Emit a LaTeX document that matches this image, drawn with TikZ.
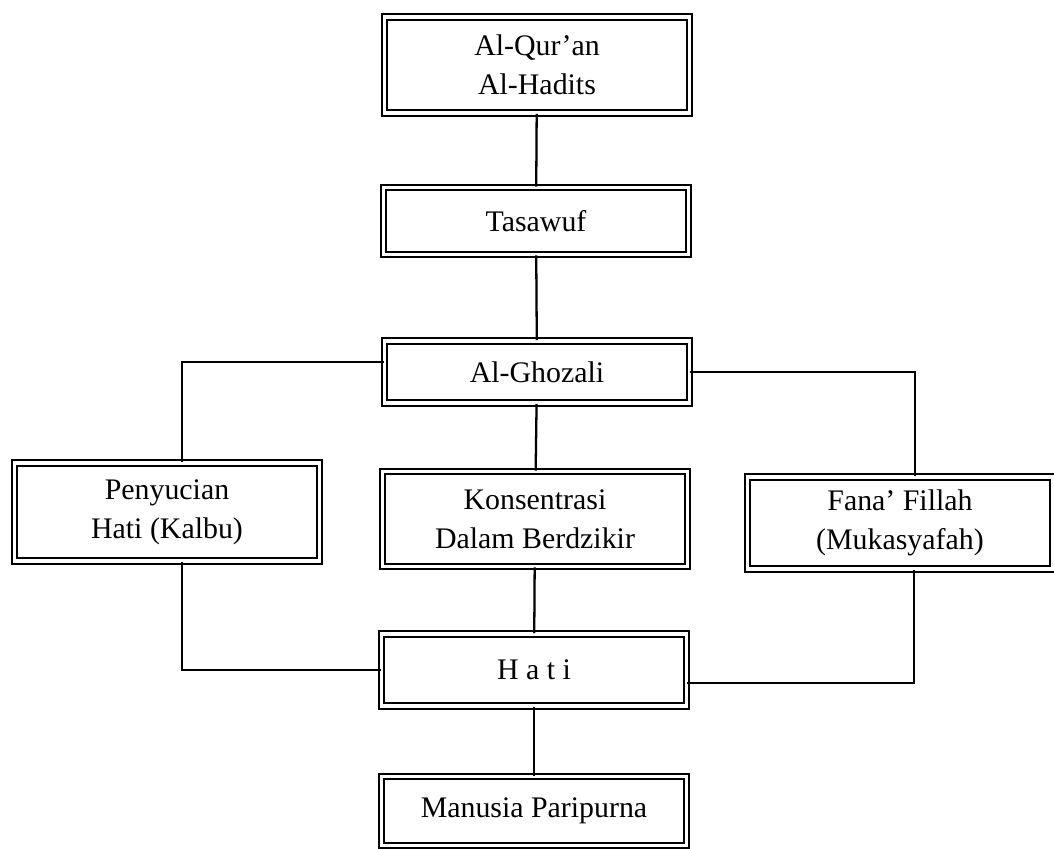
\documentclass[tikz,border=0pt]{standalone}
\usepackage{fontspec}
\setmainfont{Liberation Serif}
\usepackage{tikz}
\usetikzlibrary{positioning, calc}

\tikzset{
  kotak/.style={draw, double, double distance=2.2pt, line width=1.1pt,
    minimum width=6.1cm, align=center, inner sep=2pt},
  garis/.style={line width=1.3pt}
}

\begin{document}
\begin{tikzpicture}[x=0.02cm, y=-0.02cm, font=\fontsize{17}{22}\selectfont]
  \useasboundingbox (0,0) rectangle (1054,848);
  % kolom tengah
  \node[kotak, minimum height=1.92cm] (quran) at (537,65) {Al-Qur'an\\Al-Hadits};
  \node[kotak, minimum height=1.34cm] (tasawuf) at (536,221) {Tasawuf};
  \node[kotak, minimum height=1.24cm] (ghozali) at (537,372) {Al-Ghozali};
  % tiga jalan
  \node[kotak, minimum height=1.96cm] (penyucian) at (167,512) {Penyucian\\Hati (Kalbu)};
  \node[kotak, minimum height=1.9cm] (konsentrasi) at (535,519) {Konsentrasi\\Dalam Berdzikir};
  \node[kotak, minimum height=1.84cm] (fana) at (900,523) {Fana' Fillah\\(Mukasyafah)};
  % hasil
  \node[kotak, minimum height=1.44cm] (hati) at (534,670) {H a t i};
  \node[kotak, minimum height=1.38cm] (manusia) at (534,811) {Manusia Paripurna};

  \draw[garis] (quran) -- (tasawuf);
  \draw[garis] (tasawuf) -- (ghozali);
  \draw[garis] (ghozali) -- (konsentrasi);
  \draw[garis] ([yshift=0.2cm]ghozali.west) -| ([xshift=0.3cm]penyucian.north);
  \draw[garis] (ghozali.east) -| ([xshift=0.3cm]fana.north);
  \draw[garis] ([xshift=0.3cm]penyucian.south) |- (hati.west);
  \draw[garis] ([xshift=0.28cm]fana.south) |- ([yshift=-0.26cm]hati.east);
  \draw[garis] (konsentrasi) -- (hati);
  \draw[garis] (hati) -- (manusia);
\end{tikzpicture}
\end{document}
